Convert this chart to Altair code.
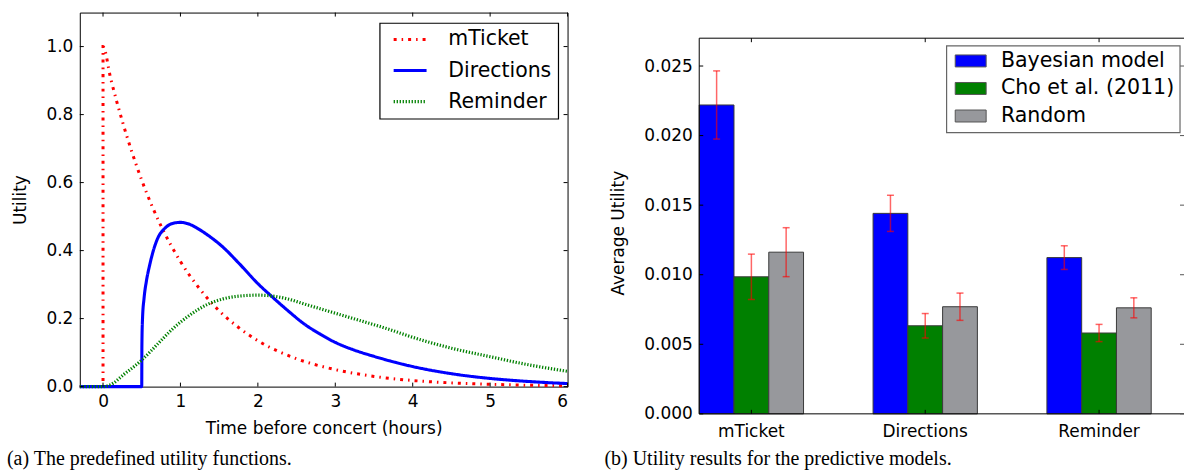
import altair as alt
import pandas as pd

# ---------------- Panel (a): predefined utility functions ----------------
series_names = ["mTicket", "Directions", "Reminder"]
series_colors = ["#ff0000", "#0000ff", "#008000"]
series_dashes = [[3, 5, 1.5, 5], [1, 0], [1.3, 1.7]]
series_widths = [3, 3.2, 2.2]

mticket_x = [-0.3, 0.0, 0.0, 0.1, 0.25, 0.5, 0.75, 1.0, 1.25, 1.5, 1.75, 2.0, 2.5, 3.0,
             3.5, 4.0, 4.5, 5.0, 5.5, 6.0]
mticket_y = [0.0, 0.0, 1.0, 0.905, 0.78, 0.607, 0.472, 0.368, 0.287, 0.223, 0.174, 0.135,
             0.082, 0.05, 0.03, 0.018, 0.011, 0.007, 0.004, 0.0025]

directions_x = [-0.3, 0.5, 0.502, 0.51, 0.53, 0.56, 0.6, 0.65, 0.7, 0.8, 0.9, 1.0, 1.1, 1.2,
                1.35, 1.55, 1.75, 2.0, 2.2, 2.4, 2.6, 2.8, 3.0, 3.25, 3.5, 3.7, 4.0, 4.5,
                5.0, 5.5, 6.0]
directions_y = [0.0, 0.0, 0.12, 0.2, 0.26, 0.31, 0.355, 0.4, 0.433, 0.466, 0.48, 0.483, 0.479,
                0.468, 0.446, 0.41, 0.364, 0.303, 0.261, 0.221, 0.184, 0.155, 0.13, 0.107,
                0.089, 0.076, 0.059, 0.038, 0.024, 0.015, 0.009]

reminder_x = [-0.3, 0.0, 0.1, 0.27, 0.5, 0.7, 0.9, 1.1, 1.35, 1.55, 1.75, 2.0, 2.2, 2.4,
              2.6, 2.85, 3.25, 3.7, 4.0, 4.5, 5.0, 5.5, 6.0]
reminder_y = [0.0, 0.0, 0.006, 0.036, 0.078, 0.124, 0.17, 0.207, 0.242, 0.258, 0.266, 0.269,
              0.266, 0.257, 0.243, 0.226, 0.199, 0.168, 0.145, 0.113, 0.088, 0.064, 0.045]

left_xticks = [0, 1, 2, 3, 4, 5, 6]
left_yticks = [0.0, 0.2, 0.4, 0.6, 0.8, 1.0]

# ---------------- Panel (b): utility of predictive models ----------------
categories = ["mTicket", "Directions", "Reminder"]
models = ["Bayesian model", "Cho et al. (2011)", "Random"]
model_colors = ["#0000ff", "#008000", "#97989c"]
bayes_mean = [0.0222, 0.01441, 0.01123]
bayes_err = [0.00245, 0.0013, 0.00085]
cho_mean = [0.00985, 0.00633, 0.00581]
cho_err = [0.00163, 0.00088, 0.00062]
random_mean = [0.01162, 0.0077, 0.00762]
random_err = [0.00176, 0.00098, 0.00072]
right_yticks = [0.0, 0.005, 0.01, 0.015, 0.02, 0.025]

FONT = "DejaVu Sans"

# ---- build tables ----
rows = []
for name, xs, ys in [("mTicket", mticket_x, mticket_y),
                     ("Directions", directions_x, directions_y),
                     ("Reminder", reminder_x, reminder_y)]:
    for i, (xv, yv) in enumerate(zip(xs, ys)):
        rows.append({"series": name, "i": i, "x": xv, "y": yv})
lines_df = pd.DataFrame(rows)

bar_rows = []
for model, means, errs in [(models[0], bayes_mean, bayes_err),
                           (models[1], cho_mean, cho_err),
                           (models[2], random_mean, random_err)]:
    for cat, m, e in zip(categories, means, errs):
        bar_rows.append({"cat": cat, "model": model, "mean": m, "lo": m - e, "hi": m + e})
bars_df = pd.DataFrame(bar_rows)

one_row = pd.DataFrame({"k": [0]})
tick_style = dict(color="black", strokeWidth=1)

# ---------------- left chart ----------------
WL, HL = 489, 375
xs_l = alt.Scale(domain=[-0.3, 6], nice=False, zero=False)
ys_l = alt.Scale(domain=[0, 1.1], nice=False, zero=False)
ax_xl = alt.Axis(values=left_xticks, format="d", title="Time before concert (hours)",
                 labelPadding=7, titleX=WL / 2, titleY=42, titleBaseline="middle")
ax_yl = alt.Axis(values=left_yticks, format=".1f", title="Utility", labelPadding=7,
                 titleX=-59, titleY=HL / 2, titleBaseline="middle")

leg_l = alt.Legend(
    orient="none", legendX=300.6, legendY=10.4, title=None,
    symbolType="M-2,0H2", symbolSize=272.25, symbolStrokeWidth=3, symbolOffset=14,
    labelOffset=28, labelFontSize=20.5, labelFont=FONT, labelColor="black", labelLimit=400,
    padding=6.3, rowPadding=10.2, fillColor="white", strokeColor="black",
)

lines = alt.Chart(lines_df).mark_line(interpolate="monotone").encode(
    x=alt.X("x:Q", scale=xs_l, axis=ax_xl),
    y=alt.Y("y:Q", scale=ys_l, axis=ax_yl),
    color=alt.Color("series:N", scale=alt.Scale(domain=series_names, range=series_colors),
                    legend=leg_l),
    strokeDash=alt.StrokeDash("series:N", scale=alt.Scale(domain=series_names, range=series_dashes),
                              legend=leg_l),
    strokeWidth=alt.StrokeWidth("series:N", scale=alt.Scale(domain=series_names, range=series_widths),
                                legend=None),
    order=alt.Order("i:Q"),
)

lxt = pd.DataFrame({"x": left_xticks})
lyt = pd.DataFrame({"y": left_yticks})
l_ticks = [
    alt.Chart(lxt).mark_rule(**tick_style).encode(
        x=alt.X("x:Q", scale=xs_l, axis=ax_xl), y=alt.value(HL), y2=alt.value(HL - 4)),
    alt.Chart(lxt).mark_rule(**tick_style).encode(
        x=alt.X("x:Q", scale=xs_l, axis=ax_xl), y=alt.value(0), y2=alt.value(4)),
    alt.Chart(lyt).mark_rule(**tick_style).encode(
        y=alt.Y("y:Q", scale=ys_l, axis=ax_yl), x=alt.value(0), x2=alt.value(4)),
    alt.Chart(lyt).mark_rule(**tick_style).encode(
        y=alt.Y("y:Q", scale=ys_l, axis=ax_yl), x=alt.value(WL - 4), x2=alt.value(WL)),
]

left = alt.layer(lines, *l_ticks).properties(
    width=WL, height=HL,
    title=alt.TitleParams("(a) The predefined utility functions.", orient="bottom",
                          anchor="start", frame="group", dx=-73, offset=13,
                          font="Liberation Serif", fontSize=20, fontWeight="normal",
                          color="black"),
)

# ---------------- right chart ----------------
WR, HR, RTOP = 486, 402.3, 25.7
xs_r = alt.Scale(domain=categories, paddingInner=0.4, paddingOuter=0.0943, align=0)
ys_r = alt.Scale(domain=[0, 0.027], nice=False, zero=False, range=[HR, RTOP])
ax_xr = alt.Axis(title=None, labelAngle=0, labelPadding=9.7)
ax_yr = alt.Axis(values=right_yticks, format=".3f", title="Average Utility", labelPadding=7,
                 titleX=-81.3, titleY=220.7, titleBaseline="middle")
xo_r = alt.XOffset("model:N", scale=alt.Scale(domain=models))

leg_r = alt.Legend(
    orient="none", legendX=247.7, legendY=33, title=None,
    symbolType="M-2,-0.774H2V0.774H-2Z", symbolSize=240.25,
    symbolStrokeColor="#555555", symbolStrokeWidth=1, symbolOffset=8.95, symbolOpacity=1,
    labelOffset=20, labelFontSize=20.6, labelFont=FONT, labelColor="black", labelLimit=400,
    padding=5.2, rowPadding=6.6, fillColor="white", strokeColor="#666666",
)

bars = alt.Chart(bars_df).mark_bar(stroke="#3a3a3a", strokeWidth=1, opacity=1).encode(
    x=alt.X("cat:N", scale=xs_r, axis=ax_xr),
    xOffset=xo_r,
    y=alt.Y("mean:Q", scale=ys_r, axis=ax_yr),
    color=alt.Color("model:N", scale=alt.Scale(domain=models, range=model_colors), legend=leg_r),
)

err_rule = alt.Chart(bars_df).mark_rule(color="#ff0000", opacity=0.6, strokeWidth=1.5).encode(
    x=alt.X("cat:N", scale=xs_r, axis=ax_xr),
    xOffset=xo_r,
    y=alt.Y("lo:Q", scale=ys_r, axis=ax_yr),
    y2="hi:Q",
)
err_caps = [
    alt.Chart(bars_df).mark_tick(color="#ff0000", opacity=0.6, thickness=1.5, size=7).encode(
        x=alt.X("cat:N", scale=xs_r, axis=ax_xr),
        xOffset=xo_r,
        y=alt.Y(f"{f}:Q", scale=ys_r, axis=ax_yr),
    )
    for f in ("lo", "hi")
]

rct = pd.DataFrame({"cat": categories})
ryt = pd.DataFrame({"y": right_yticks})
r_frame = [
    alt.Chart(one_row).mark_rule(color="black", strokeWidth=1).encode(
        x=alt.value(0), y=alt.value(RTOP), y2=alt.value(HR)),
    alt.Chart(one_row).mark_rule(color="black", strokeWidth=1).encode(
        x=alt.value(0), x2=alt.value(WR), y=alt.value(RTOP)),
    alt.Chart(one_row).mark_rule(color="black", strokeWidth=1).encode(
        x=alt.value(0), x2=alt.value(WR), y=alt.value(HR)),
]
r_ticks = [
    alt.Chart(rct).mark_rule(**tick_style).encode(
        x=alt.X("cat:N", scale=xs_r, axis=ax_xr), y=alt.value(RTOP), y2=alt.value(RTOP + 4)),
    alt.Chart(rct).mark_rule(**tick_style).encode(
        x=alt.X("cat:N", scale=xs_r, axis=ax_xr), y=alt.value(HR - 4), y2=alt.value(HR)),
    alt.Chart(ryt).mark_rule(**tick_style).encode(
        y=alt.Y("y:Q", scale=ys_r, axis=ax_yr), x=alt.value(0), x2=alt.value(4)),
    alt.Chart(ryt).mark_rule(color="#555555", strokeWidth=1).encode(
        y=alt.Y("y:Q", scale=ys_r, axis=ax_yr), x=alt.value(WR - 4), x2=alt.value(WR)),
]

right = alt.layer(bars, err_rule, *err_caps, *r_frame, *r_ticks).properties(
    width=WR, height=HR,
    view=alt.ViewBackground(stroke="transparent"),
    title=alt.TitleParams("(b) Utility results for the predictive models.", orient="bottom",
                          anchor="start", frame="group", dx=-95, offset=10,
                          font="Liberation Serif", fontSize=20, fontWeight="normal",
                          color="black"),
)

chart = alt.hconcat(left, right, spacing=29).resolve_scale(
    color="independent", strokeDash="independent", strokeWidth="independent",
    x="independent", y="independent"
).properties(
    padding={"left": 6, "top": 11, "right": 0, "bottom": 0},
    background="white",
).configure_view(
    stroke="black", strokeWidth=1
).configure_legend(
    strokeWidth=1.2, cornerRadius=0,
).configure_axis(
    labelFont=FONT, labelFontSize=17, labelColor="black",
    titleFont=FONT, titleFontSize=17, titleFontWeight="normal", titleColor="black",
    grid=False, ticks=False, domain=False,
)

chart.save("out.html", embed_options={"renderer": "svg", "actions": False})
